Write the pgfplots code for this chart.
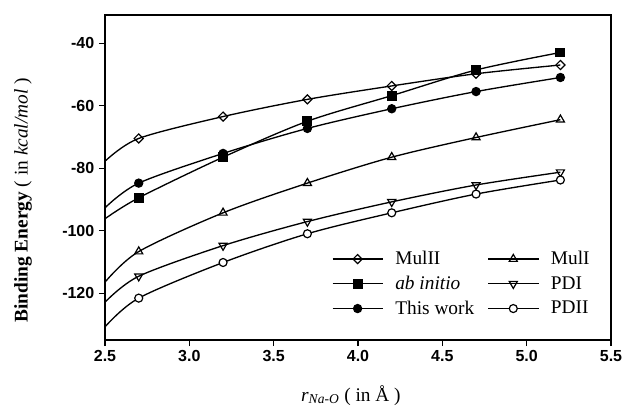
\documentclass[border=0pt]{standalone}
\usepackage{fontspec}
\setmainfont{Liberation Serif}
\setsansfont{Liberation Sans}
\usepackage{pgfplots}
\usepackage{pgfplotstable}
\pgfplotsset{compat=1.18}
\pgfplotstableread{
x     mulII   mulI    abin    pdi     tw      pdii
2.5   -77.8   -116.5  -96.2   -122.9  -92.7   -130.8
2.7   -70.5   -106.7  -89.5   -114.6  -84.8   -121.6
3.2   -63.5   -94.3   -76.5   -104.8  -75.3   -110.2
3.7   -58.0   -84.8   -65.0   -97.1   -67.3   -101.0
4.2   -53.7   -76.5   -56.8   -90.8   -61.0   -94.3
4.7   -49.8   -70.2   -48.6   -85.4   -55.5   -88.3
5.2   -47.0   -64.5   -43.0   -81.3   -51.0   -83.8
}\datatab
\begin{document}
\begin{tikzpicture}
\begin{axis}[
  name=ax,
  scale only axis,
  width=379.5pt, height=243.75pt,
  xmin=2.5, xmax=5.5, ymin=-135, ymax=-31,
  xtick={2.5,3.0,...,5.5},
  ytick={-120,-100,-80,-60,-40},
  tick align=outside, tick pos=left,
  major tick length=4.5pt,
  axis line style={line width=0.9pt},
  tick style={line width=0.9pt, black},
  /pgf/number format/assume math mode=true,
  ticklabel style={font=\sffamily\bfseries\fontsize{12}{14}\selectfont},
  xticklabel style={/pgf/number format/.cd, fixed, fixed zerofill, precision=1},
  yticklabel style={/pgf/number format/.cd, fixed},
  xlabel={\textit{r}\textsubscript{\textit{Na-O}} ( in Å )},
  ylabel={\textbf{Binding Energy} ( in \textit{kcal/mol} )},
  xlabel style={font=\fontsize{14.5}{17}\selectfont, at={(axis description cs:0.486,-0.17)}, anchor=center},
  ylabel style={font=\fontsize{14.5}{17}\selectfont, at={(axis description cs:-0.162,0.43)}, anchor=center},
  every axis plot/.append style={black, solid, line width=1pt, smooth, mark indices={2,3,4,5,6,7}},
  legend columns=2,
  legend style={draw=none, fill=none, at={(0.44,0.29)}, anchor=north west,
    font=\fontsize{14.5}{17}\selectfont, row sep=3pt,
    /tikz/every odd column/.append style={column sep=7pt},
    /tikz/every even column/.append style={column sep=8pt},
    cells={anchor=west}},
  legend image code/.code={\draw[#1,mark=none] plot coordinates {(0cm,0cm) (1.32cm,0cm)};
    \draw[#1,mark indices={1}] plot coordinates {(0.66cm,0cm)};},
]
\addplot[mark=square, mark size=2.4pt, mark options={rotate=45, fill=white, solid, line width=0.9pt}] table[x=x,y=mulII]{\datatab};
\addlegendentry{MulII}
\addplot[mark=triangle, mark size=3.5pt, mark options={fill=white, solid, line width=0.9pt}] table[x=x,y=mulI]{\datatab};
\addlegendentry{MulI}
\addplot[mark=square*, mark size=3.2pt, mark options={fill=black, solid}] table[x=x,y=abin]{\datatab};
\addlegendentry{\textit{ab initio}}
\addplot[mark=triangle, mark size=3.5pt, mark options={rotate=180, fill=white, solid, line width=0.9pt}] table[x=x,y=pdi]{\datatab};
\addlegendentry{PDI}
\addplot[mark=*, mark size=3pt, mark options={fill=black, solid}] table[x=x,y=tw]{\datatab};
\addlegendentry{This work}
\addplot[mark=*, mark size=3pt, mark options={fill=white, solid, line width=0.9pt}] table[x=x,y=pdii]{\datatab};
\addlegendentry{PDII}
\end{axis}
\path ([shift={(-78.75pt,-48.75pt)}]ax.south west) rectangle ([shift={(13.5pt,11.25pt)}]ax.north east);
\end{tikzpicture}
\end{document}
